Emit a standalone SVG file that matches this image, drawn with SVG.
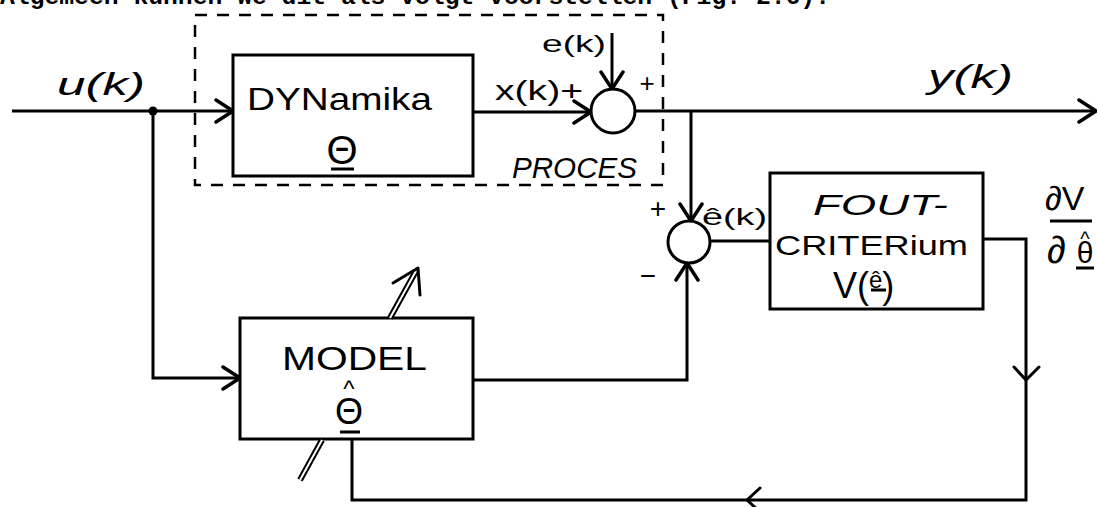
<svg xmlns="http://www.w3.org/2000/svg" width="1098" height="507" viewBox="0 0 1098 507">
<style>
.box{fill:none;stroke:#000;stroke-width:3}
.ln{fill:none;stroke:#000;stroke-width:3;stroke-linejoin:miter}
.dash{fill:none;stroke:#000;stroke-width:2.5;stroke-dasharray:12 10}
.t{font-family:"Liberation Sans",Arial,sans-serif;fill:#000}
.i{font-style:italic}
.hd{fill:none;stroke:#000;stroke-width:3;stroke-linecap:round;stroke-linejoin:round}
</style>
<defs>
<marker id="ah" viewBox="0 0 20 26" refX="19" refY="13" markerWidth="20" markerHeight="26" markerUnits="userSpaceOnUse" orient="auto">
<path d="M2,2 L19,13 L2,24" fill="none" stroke="#000" stroke-width="3.5" stroke-linecap="round"/>
</marker>
</defs>
<rect width="1098" height="507" fill="#fff"/>
<text x="0" y="4" font-family="'Liberation Mono',monospace" font-weight="bold" font-size="24" textLength="830" lengthAdjust="spacingAndGlyphs">Algemeen kunnen we dit als volgt voorstellen (Fig. 2.6).</text>

<g id="proces">
<rect class="dash" x="195" y="15" width="468" height="170"/>
<text class="t i" x="512" y="178" font-size="30" textLength="125" lengthAdjust="spacingAndGlyphs">PROCES</text>
</g>

<g id="dynamika">
<rect class="box" x="233" y="55" width="240" height="121"/>
<text class="t" x="247" y="110" font-size="32" textLength="185" lengthAdjust="spacingAndGlyphs">DYNamika</text>
<text class="t" x="342" y="164" font-size="40" text-anchor="middle">Θ</text>
<line class="ln" x1="331" y1="169" x2="354" y2="169" stroke-width="2.5"/>
</g>

<g id="sum1">
<circle class="box" cx="613" cy="111" r="22"/>
<text class="t" x="495" y="100" font-size="28" textLength="88" lengthAdjust="spacingAndGlyphs">x(k)+</text>
<text class="t" x="542" y="52" font-size="24" textLength="64" lengthAdjust="spacingAndGlyphs">e(k)</text>
<text class="t" x="647" y="92" font-size="26" text-anchor="middle">+</text>
</g>

<g id="sum2">
<circle class="box" cx="689" cy="242" r="21"/>
<text class="t" x="658" y="218" font-size="28" text-anchor="middle">+</text>
<text class="t" x="648" y="285" font-size="28" text-anchor="middle">−</text>
<text class="t" x="702" y="225" font-size="24" textLength="65" lengthAdjust="spacingAndGlyphs">ê(k)</text>
</g>

<g id="foutcriterium">
<rect class="box" x="770" y="173" width="213" height="136"/>
<text class="t i" x="813" y="215" font-size="30" textLength="135" lengthAdjust="spacingAndGlyphs">FOUT-</text>
<text class="t" x="775" y="255" font-size="28" textLength="193" lengthAdjust="spacingAndGlyphs">CRITERium</text>
<text class="t" x="833" y="298" font-size="36">V(<tspan font-size="24" dy="-10">ê</tspan><tspan dy="10">)</tspan></text>
<line class="ln" x1="871" y1="290" x2="886" y2="290" stroke-width="2.5"/>
</g>

<g id="model">
<rect class="box" x="240" y="318" width="233" height="121"/>
<text class="t" x="282" y="370" font-size="34" textLength="145" lengthAdjust="spacingAndGlyphs">MODEL</text>
<text class="t" x="349" y="397" font-size="24" text-anchor="middle">^</text>
<text class="t" x="349" y="424" font-size="36" text-anchor="middle">Θ</text>
<line class="ln" x1="340" y1="432" x2="360" y2="432" stroke-width="3"/>
</g>

<g id="labels">
<text class="t i" x="57" y="95" font-family="'Liberation Serif',serif" font-size="32" textLength="88" lengthAdjust="spacingAndGlyphs">u(k)</text>
<text class="t i" x="928" y="88" font-family="'Liberation Serif',serif" font-size="34" textLength="85" lengthAdjust="spacingAndGlyphs">y(k)</text>
<text class="t" x="1045" y="210" font-size="34">∂V</text>
<line class="ln" x1="1050" y1="221" x2="1092" y2="221" stroke-width="2"/>
<text class="t" x="1047" y="263" font-size="38">∂</text>
<text class="t" x="1085" y="263" font-size="30" text-anchor="middle">θ</text>
<text class="t" x="1085" y="246" font-size="20" text-anchor="middle">^</text>
<line class="ln" x1="1076" y1="268" x2="1094" y2="268" stroke-width="2.5"/>
</g>

<g id="connectors">
<path class="ln" d="M12,111 L233,111" marker-end="url(#ah)"/>
<circle cx="153" cy="111" r="4.5" fill="#000"/>
<path class="ln" d="M473,112 L591,112" marker-end="url(#ah)"/>
<path class="ln" d="M612,33 L612,89" marker-end="url(#ah)"/>
<path class="ln" d="M635,111 L1096,111" marker-end="url(#ah)"/>
<path class="ln" d="M691,111 L691,221" marker-end="url(#ah)"/>
<path class="ln" d="M153,111 L153,378 L240,378" marker-end="url(#ah)"/>
<path class="ln" d="M473,380 L687,380 L687,263" marker-end="url(#ah)"/>
<path class="ln" d="M710,241 L770,241"/>
<path class="ln" d="M983,239 L1026,239 L1026,500 L352,500 L352,439"/>
<path class="hd" d="M1014,367 L1026,380 L1039,367"/>
<path class="hd" d="M760,488 L747,500 L760,512"/>
<g id="adjust">
<path d="M300,480 L322,440 M390,318 L416,271" fill="none" stroke="#000" stroke-width="6"/>
<path d="M300,480 L322,440 M390,318 L416,271" fill="none" stroke="#fff" stroke-width="2"/>
<path class="hd" d="M393,283 L418,268 L420,295"/>
</g>
</g>
</svg>
